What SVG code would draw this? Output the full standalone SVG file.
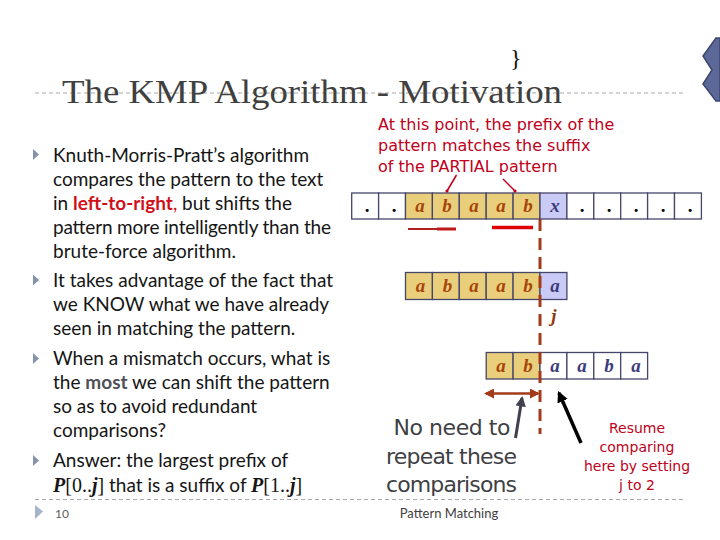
<svg xmlns="http://www.w3.org/2000/svg" width="720" height="540" viewBox="0 0 720 540">
<defs>
<style>
.bul{font-family:Lato,"Liberation Sans",sans-serif;font-size:19px;fill:#151515}
.tri{fill:#8593AC}
.cell{stroke:#46466A;stroke-width:1.3}
.y{fill:#E9CF7C}
.bl{fill:#CACAF7}
.w{fill:#FFFFFF}
.lt{font-family:"Liberation Serif",serif;font-weight:bold;font-style:italic;font-size:19px;text-anchor:middle}
.lo{fill:#A8450C}
.lb{fill:#3C3C7C}
.dot{font-family:"Liberation Serif",serif;font-weight:bold;font-size:19px;text-anchor:middle;fill:#000}
.red{font-family:"DejaVu Sans",sans-serif;fill:#C0001A}
.dash{stroke:#A8A8A8;stroke-width:1;stroke-dasharray:4 3;fill:none}
.mth{font-family:"Liberation Serif",serif;font-size:20px;fill:#151515}
</style>
<marker id="ah" viewBox="0 0 10 10" refX="8" refY="5" markerWidth="4" markerHeight="4" orient="auto-start-reverse">
<path d="M0,0 L10,5 L0,10 z" fill="#A33B1A"/>
</marker>
<marker id="ahg" viewBox="0 0 10 10" refX="8" refY="5" markerWidth="3.5" markerHeight="3.5" orient="auto">
<path d="M0,0 L10,5 L0,10 z" fill="#40404E"/>
</marker>
<marker id="ahk" viewBox="0 0 10 10" refX="8" refY="5" markerWidth="3.2" markerHeight="3.2" orient="auto">
<path d="M0,0 L10,5 L0,10 z" fill="#000"/>
</marker>
</defs>
<rect width="720" height="540" fill="#FFFFFF"/>

<g id="header">
<line class="dash" x1="35" y1="93" x2="685" y2="93"/>
<text x="62" y="103" font-family="Liberation Serif,serif" font-size="33" fill="#404040" textLength="500" lengthAdjust="spacingAndGlyphs">The KMP Algorithm - Motivation</text>
<text x="510" y="66" font-family="Liberation Serif,serif" font-size="24" fill="#111">}</text>
<path d="M720,38 L716,38 L703,56 L712,70 L703,84 L716,101 L720,101 Z" fill="#5B6898" stroke="#3C4670" stroke-width="1.5"/>
</g>

<g id="bullets">
<path class="tri" d="M33,149 L39,154.5 L33,160 Z"/>
<text class="bul" x="53" y="161.5">Knuth-Morris-Pratt’s algorithm</text>
<text class="bul" x="53" y="185.5">compares the pattern to the text</text>
<text class="bul" x="53" y="209.5">in <tspan font-weight="bold" fill="#D0101A">left-to-right</tspan><tspan fill="#D0101A">,</tspan> but shifts the</text>
<text class="bul" x="53" y="233.5" textLength="278">pattern more intelligently than the</text>
<text class="bul" x="53" y="257.5">brute-force algorithm.</text>
<path class="tri" d="M33,274.5 L39,280 L33,285.5 Z"/>
<text class="bul" x="53" y="286.5">It takes advantage of the fact that</text>
<text class="bul" x="53" y="310.5">we KNOW what we have already</text>
<text class="bul" x="53" y="334.5">seen in matching the pattern.</text>
<path class="tri" d="M33,353 L39,358.5 L33,364 Z"/>
<text class="bul" x="53" y="365">When a mismatch occurs, what is</text>
<text class="bul" x="53" y="389">the <tspan font-weight="bold" fill="#505058">most</tspan> we can shift the pattern</text>
<text class="bul" x="53" y="413">so as to avoid redundant</text>
<text class="bul" x="53" y="437">comparisons?</text>
<path class="tri" d="M33,455 L39,460.5 L33,466 Z"/>
<text class="bul" x="53" y="467">Answer: the largest prefix of</text>
<text class="mth" x="53" y="491.5"><tspan font-weight="bold" font-style="italic">P</tspan>[0..<tspan font-weight="bold" font-style="italic">j</tspan>]<tspan class="bul" font-size="19"> that is a suffix of </tspan><tspan font-weight="bold" font-style="italic">P</tspan>[1..<tspan font-weight="bold" font-style="italic">j</tspan>]</text>
</g>

<g id="annotation-top">
<text class="red" font-size="16" x="378" y="130">At this point, the prefix of the</text>
<text class="red" font-size="16" x="378" y="151">pattern matches the suffix</text>
<text class="red" font-size="16" x="378" y="172">of the PARTIAL pattern</text>
</g>

<g id="text-row">
<rect class="cell w" x="351.7" y="193" width="26.9" height="26"/>
<rect class="cell w" x="378.6" y="193" width="26.9" height="26"/>
<rect class="cell y" x="405.5" y="193" width="26.9" height="26"/>
<rect class="cell y" x="432.4" y="193" width="26.9" height="26"/>
<rect class="cell y" x="459.3" y="193" width="26.9" height="26"/>
<rect class="cell y" x="486.2" y="193" width="26.9" height="26"/>
<rect class="cell y" x="513.1" y="193" width="26.9" height="26"/>
<rect class="cell bl" x="540" y="193" width="26.9" height="26"/>
<rect class="cell w" x="566.9" y="193" width="26.9" height="26"/>
<rect class="cell w" x="593.8" y="193" width="26.9" height="26"/>
<rect class="cell w" x="620.7" y="193" width="26.9" height="26"/>
<rect class="cell w" x="647.6" y="193" width="26.9" height="26"/>
<rect class="cell w" x="674.5" y="193" width="26.9" height="26"/>
<text class="dot" x="367" y="212">.</text>
<text class="dot" x="394" y="212">.</text>
<text class="lt lo" x="420" y="212">a</text>
<text class="lt lo" x="447" y="212">b</text>
<text class="lt lo" x="474" y="212">a</text>
<text class="lt lo" x="501" y="212">a</text>
<text class="lt lo" x="528" y="212">b</text>
<text class="lt lb" x="555" y="212">x</text>
<text class="dot" x="582" y="212">.</text>
<text class="dot" x="609" y="212">.</text>
<text class="dot" x="636" y="212">.</text>
<text class="dot" x="663" y="212">.</text>
<text class="dot" x="690" y="212">.</text>
</g>

<g id="pattern-row1">
<rect class="cell y" x="405.5" y="272.5" width="26.9" height="27"/>
<rect class="cell y" x="432.4" y="272.5" width="26.9" height="27"/>
<rect class="cell y" x="459.3" y="272.5" width="26.9" height="27"/>
<rect class="cell y" x="486.2" y="272.5" width="26.9" height="27"/>
<rect class="cell y" x="513.1" y="272.5" width="26.9" height="27"/>
<rect class="cell bl" x="540" y="272.5" width="26.9" height="27"/>
<text class="lt lo" x="420.5" y="292">a</text>
<text class="lt lo" x="447.5" y="292">b</text>
<text class="lt lo" x="474" y="292">a</text>
<text class="lt lo" x="501" y="292">a</text>
<text class="lt lo" x="528" y="292">b</text>
<text class="lt lb" x="555" y="292">a</text>
<text class="lt" x="554" y="322" fill="#8E3A10">j</text>
</g>

<g id="pattern-row2">
<rect class="cell y" x="486.2" y="352.5" width="26.9" height="26.5"/>
<rect class="cell y" x="513.1" y="352.5" width="26.9" height="26.5"/>
<rect class="cell w" x="540" y="352.5" width="26.9" height="26.5"/>
<rect class="cell w" x="566.9" y="352.5" width="26.9" height="26.5"/>
<rect class="cell w" x="593.8" y="352.5" width="26.9" height="26.5"/>
<rect class="cell w" x="620.7" y="352.5" width="26.9" height="26.5"/>
<text class="lt lo" x="501" y="372">a</text>
<text class="lt lo" x="528" y="372">b</text>
<text class="lt lb" x="555" y="372">a</text>
<text class="lt lb" x="582" y="372">a</text>
<text class="lt lb" x="609" y="372">b</text>
<text class="lt lb" x="636" y="372">a</text>
</g>

<g id="annotation-bottom">
<g font-family="DejaVu Sans,sans-serif" font-size="22" fill="#404044" text-anchor="middle">
<text x="452" y="435" textLength="117">No need to</text>
<text x="451.5" y="464" textLength="131">repeat these</text>
<text x="451.5" y="492" textLength="131">comparisons</text>
</g>
<g class="red" font-size="14" text-anchor="middle">
<text x="637" y="433">Resume</text>
<text x="637" y="452">comparing</text>
<text x="637" y="471">here by setting</text>
<text x="637" y="490">j to 2</text>
</g>
</g>

<g id="connectors">
<line x1="456.5" y1="175" x2="447" y2="191" stroke="#C0001A" stroke-width="1.5"/>
<circle cx="447" cy="191" r="1.6" fill="#C0001A"/>
<line x1="503" y1="179" x2="515" y2="191" stroke="#C0001A" stroke-width="1.5"/>
<circle cx="515" cy="191" r="1.6" fill="#C0001A"/>
<line x1="408" y1="229" x2="438" y2="229" stroke="#B02020" stroke-width="2"/>
<line x1="437" y1="229" x2="456" y2="229" stroke="#C01818" stroke-width="3"/>
<line x1="492" y1="227.5" x2="533" y2="227.5" stroke="#E00000" stroke-width="3.5"/>
<line x1="540" y1="219" x2="540" y2="434" stroke="#A33B1A" stroke-width="3" stroke-dasharray="12 7"/>
<line x1="486" y1="393.5" x2="538" y2="393.5" stroke="#A33B1A" stroke-width="2.5" marker-start="url(#ah)" marker-end="url(#ah)"/>
<line x1="515.5" y1="438" x2="522" y2="398" stroke="#40404E" stroke-width="3" marker-end="url(#ahg)"/>
<line x1="581" y1="443" x2="559" y2="393" stroke="#000" stroke-width="3.5" marker-end="url(#ahk)"/>
</g>

<g id="footer">
<line class="dash" x1="35" y1="499.5" x2="685" y2="499.5"/>
<path d="M35,505 L43,511.5 L35,519 Z" fill="#A6B4CA"/>
<text x="55" y="518" font-family="Lato,sans-serif" font-size="12" fill="#606060">10</text>
<text x="449" y="518" font-family="Lato,sans-serif" font-size="13" fill="#404040" text-anchor="middle">Pattern Matching</text>
</g>
</svg>
